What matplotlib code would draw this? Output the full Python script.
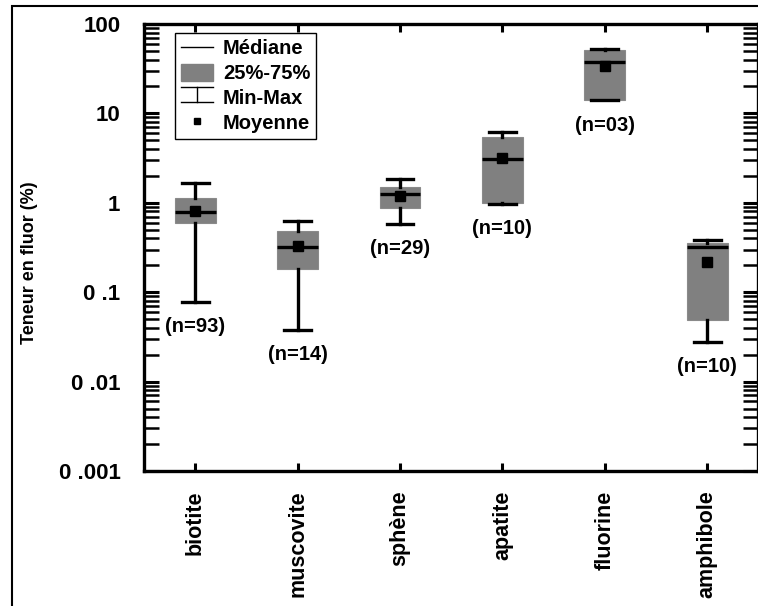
import matplotlib.pyplot as plt
from matplotlib.lines import Line2D
from matplotlib.patches import Patch, Rectangle
from matplotlib.legend_handler import HandlerBase

plt.rcParams['font.family'] = ['Liberation Sans', 'DejaVu Sans']
plt.rcParams['font.weight'] = 'bold'

minerals = ["biotite", "muscovite", "sphène", "apatite", "fluorine", "amphibole"]
counts = ["(n=93)", "(n=14)", "(n=29)", "(n=10)", "(n=03)", "(n=10)"]
val_min = [0.078, 0.038, 0.58, 0.97, 14.0, 0.028]
q25 = [0.59, 0.18, 0.87, 1.0, 14.2, 0.049]
median = [0.79, 0.32, 1.25, 3.1, 37.5, 0.32]
mean = [0.80, 0.33, 1.18, 3.2, 34.0, 0.22]
q75 = [1.13, 0.48, 1.5, 5.4, 51.0, 0.355]
val_max = [1.66, 0.63, 1.85, 6.2, 52.0, 0.38]
ytick_vals = [0.001, 0.01, 0.1, 1, 10, 100]
ytick_labels = ["0 .001", "0 .01", "0 .1", "1", "10", "100"]

stats = []
for i in range(len(minerals)):
    stats.append(dict(med=median[i], q1=q25[i], q3=q75[i], whislo=val_min[i],
                      whishi=val_max[i], mean=mean[i], fliers=[]))

fig = plt.figure(figsize=(7.58, 6.06), dpi=100)
ax = fig.add_axes([144 / 758, 1 - 471 / 606, 614.4 / 758, 447 / 606])

pos = list(range(1, len(minerals) + 1))
ax.bxp(stats, positions=pos, widths=0.40, capwidths=0.26, showmeans=True,
       patch_artist=True,
       boxprops=dict(facecolor="#808080", edgecolor="#8a8a8a", linewidth=0.8),
       medianprops=dict(color="black", linewidth=2.4),
       whiskerprops=dict(color="black", linewidth=2.4),
       capprops=dict(color="black", linewidth=2.4),
       meanprops=dict(marker="s", markerfacecolor="black", markeredgecolor="black",
                      markersize=7.5))

for i in range(len(minerals)):
    ax.annotate(counts[i], xy=(pos[i], val_min[i]), xytext=(0, -25),
                textcoords="offset pixels", ha="center", va="center",
                fontsize=14.5, fontweight="bold")

ax.set_yscale("log")
ax.set_ylim(0.001, 100)
ax.set_xlim(0.5, 6.5)
ax.set_yticks(ytick_vals)
ax.set_yticklabels(ytick_labels, fontsize=16, fontweight="bold")
ax.set_xticks(pos)
ax.set_xticklabels(minerals, rotation=90, fontsize=15.5, fontweight="bold")
ax.tick_params(axis="y", which="both", direction="in", left=True, right=True,
               length=11, width=2.2, pad=17)
ax.tick_params(axis="y", which="minor", length=11, width=1.8)
ax.tick_params(axis="x", direction="in", top=True, length=6, width=2.2, pad=14)
for s in ax.spines.values():
    s.set_linewidth(2.4)


class MinMaxHandler(HandlerBase):
    def create_artists(self, legend, orig, xd, yd, w, h, fontsize, trans):
        cx = xd + w / 2
        top = yd + h * 0.95
        bot = yd + h * 0.05
        return [
            Line2D([xd, xd + w], [top, top], color="black", lw=1, transform=trans),
            Line2D([xd, xd + w], [bot, bot], color="black", lw=1, transform=trans),
            Line2D([cx, cx], [bot, top], color="black", lw=1, transform=trans),
        ]


h_med = Line2D([], [], color="black", lw=1)
h_box = Patch(facecolor="#808080", edgecolor="#808080")
h_mm = object()
h_mean = Line2D([], [], ls="none", marker="s", color="black", markersize=4)
leg = ax.legend([h_med, h_box, h_mm, h_mean],
                ["Médiane", "25%-75%", "Min-Max", "Moyenne"],
                handler_map={object: MinMaxHandler()},
                loc="upper left", bbox_to_anchor=(0.05, 0.98), borderaxespad=0,
                fancybox=False, edgecolor="black", framealpha=1,
                prop=dict(size=14.5, weight="bold"), handlelength=1.6,
                handleheight=0.9, labelspacing=0.28, borderpad=0.3,
                handletextpad=0.5)
leg.get_frame().set_linewidth(1.0)

fig.text(30 / 758, 1 - 263 / 606, "Teneur en fluor (%)", rotation=90,
         ha="center", va="center", fontsize=13, fontweight="bold")

# outer frame of the picture
fig.patches.append(Rectangle((12 / 758, -0.1), 1.2, 1 - 6 / 606 + 0.1,
                             transform=fig.transFigure, fill=False,
                             edgecolor="black", linewidth=1.5))

fig.savefig("out.png", dpi=100)
